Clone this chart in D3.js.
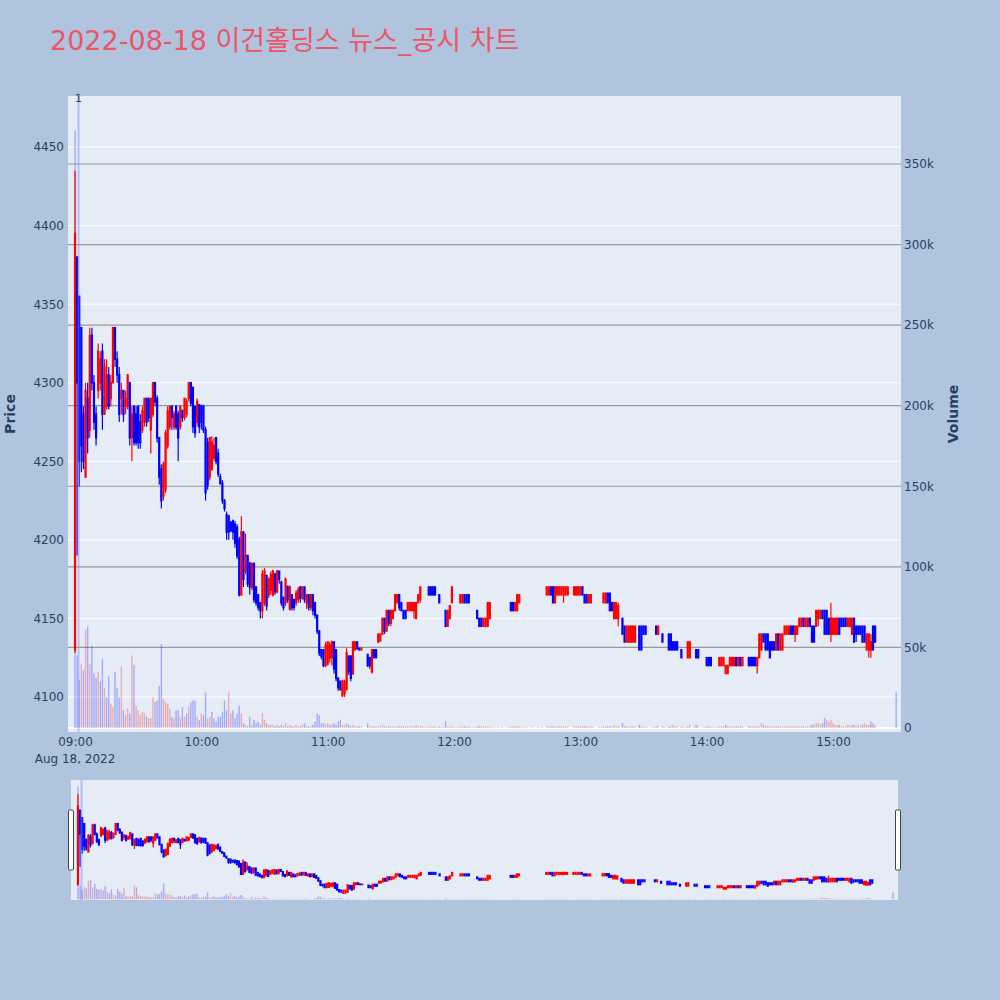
<!DOCTYPE html>
<html>
<head>
<meta charset="utf-8">
<title>2022-08-18 이건홀딩스 뉴스_공시 차트</title>
<script src="https://d3js.org/d3.v7.min.js"></script>
<style>
    body { margin: 0; background: #B0C4DE; }
    text { font-family: "DejaVu Sans", "Noto Sans CJK KR", sans-serif; }
</style>
</head>
<body>
<div id="chart"></div>
<script>

// one row per minute: [minute, open, high, low, close, volume (thousand shares)]
const hour09 = [
    [0,4130,4435,4128,4395,371],[1,4380,4380,4190,4300,45],[2,4355,4355,4234,4250,30],
    [3,4335,4335,4243,4260,40],[4,4280,4285,4245,4250,36],[5,4240,4300,4240,4295,61],
    [6,4290,4300,4255,4265,63],[7,4270,4335,4265,4330,40],[8,4330,4335,4295,4300,51],
    [9,4300,4305,4270,4275,34],[10,4280,4285,4260,4265,31],[11,4295,4325,4290,4320,35],
    [12,4300,4320,4295,4315,29],[13,4320,4325,4270,4280,43],[14,4280,4315,4280,4310,25],
    [15,4285,4315,4283,4305,19],[16,4305,4310,4283,4285,32],[17,4290,4305,4285,4300,15],
    [18,4300,4335,4300,4335,13],[19,4335,4335,4310,4315,35],[20,4315,4320,4300,4305,25],
    [21,4305,4310,4275,4280,19],[22,4290,4300,4280,4295,38],[23,4295,4295,4275,4280,11],
    [24,4285,4295,4280,4290,8],[25,4285,4305,4283,4305,12],[26,4300,4300,4260,4265,9],
    [27,4265,4285,4250,4280,45],[28,4285,4285,4260,4262,39],[29,4280,4285,4260,4262,14],
    [30,4285,4285,4258,4262,11],[31,4275,4280,4258,4262,8],[32,4270,4285,4268,4282,10],
    [33,4275,4290,4272,4290,9],[34,4290,4290,4272,4275,7],[35,4290,4290,4275,4278,6],
    [36,4270,4290,4255,4290,6],[37,4280,4300,4278,4300,19],[38,4300,4300,4285,4288,16],
    [39,4290,4292,4262,4265,17],[40,4265,4265,4235,4240,26],[41,4245,4248,4220,4225,52],
    [42,4228,4250,4225,4248,18],[43,4232,4270,4230,4268,16],[44,4260,4285,4258,4282,15],
    [45,4272,4285,4270,4285,12],[46,4285,4285,4270,4278,7],[47,4272,4282,4270,4280,6],
    [48,4285,4285,4270,4272,11],[49,4280,4282,4250,4265,11],[50,4272,4285,4270,4285,7],
    [51,4282,4283,4275,4278,13],[52,4278,4290,4276,4290,7],[53,4280,4290,4278,4288,9],
    [54,4290,4300,4288,4300,13],[55,4300,4300,4285,4287,16],[56,4297,4297,4268,4272,17],
    [57,4285,4285,4265,4268,17],[58,4275,4290,4272,4288,7],[59,4286,4286,4268,4272,5]
];
const hour10 = [
    [0,4285,4286,4270,4275,9],[1,4285,4286,4268,4270,8],[2,4270,4272,4225,4230,22],
    [3,4262,4265,4232,4235,6],[4,4240,4265,4238,4265,7],[5,4245,4266,4244,4262,10],
    [6,4252,4265,4250,4260,6],[7,4265,4265,4248,4250,4],[8,4255,4258,4240,4242,7],
    [9,4240,4242,4235,4236,7],[10,4236,4238,4223,4225,10],[11,4225,4226,4218,4220,17],
    [12,4216,4218,4200,4205,11],[13,4215,4216,4200,4205,22],[14,4211,4212,4205,4206,9],
    [15,4212,4213,4200,4205,11],[16,4210,4212,4195,4198,6],[17,4208,4210,4188,4190,9],
    [18,4200,4202,4164,4165,14],[19,4165,4215,4165,4205,9],[20,4205,4205,4170,4175,3],
    [21,4180,4204,4178,4190,2],[22,4190,4190,4170,4172,1],[23,4185,4186,4165,4170,7],
    [24,4170,4185,4168,4185,2],[25,4185,4185,4160,4162,5],[26,4170,4170,4158,4160,3],
    [27,4165,4165,4155,4157,4],[28,4160,4160,4150,4155,2],[29,4155,4181,4150,4178,9],
    [30,4160,4182,4158,4180,5],[31,4177,4178,4155,4158,3],[32,4165,4176,4163,4175,2],
    [33,4168,4180,4165,4178,2],[34,4165,4181,4164,4180,2],[35,4178,4179,4165,4167,1],
    [36,4167,4181,4166,4180,2],[37,4180,4180,4172,4175,1],[38,4173,4174,4158,4160,2],
    [39,4163,4164,4155,4157,1],[40,4160,4176,4158,4175,3],[41,4170,4171,4160,4162,1],
    [42,4156,4171,4155,4170,2],[43,4165,4165,4155,4157,1],[44,4162,4162,4155,4157,1],
    [45,4160,4168,4158,4166,2],[46,4162,4170,4160,4168,1],[47,4170,4170,4160,4163,1],
    [48,4163,4170,4162,4170,2],[49,4170,4170,4160,4162,3],[50,4160,4165,4156,4165,1],
    [51,4165,4165,4155,4157,1],[52,4157,4165,4155,4165,1],[53,4165,4165,4152,4155,2],
    [54,4160,4160,4150,4152,4],[55,4152,4152,4140,4142,9],[56,4142,4142,4126,4128,8],
    [57,4130,4130,4124,4126,3],[58,4130,4130,4119,4120,3],[59,4120,4135,4119,4133,2]
];
const hour11 = [
    [0,4121,4135,4120,4135,3],[1,4125,4135,4122,4133,2],[2,4125,4136,4120,4135,2],
    [3,4135,4135,4115,4118,3],[4,4130,4130,4110,4112,2],[5,4112,4112,4104,4106,4],
    [6,4110,4110,4104,4105,5],[7,4101,4111,4100,4110,2],[8,4102,4111,4100,4110,2],
    [9,4105,4131,4104,4128,3],[10,4126,4126,4114,4116,2],[11,4126,4126,4110,4112,1],
    [12,4115,4135,4114,4135,2],[13,4130,4135,4130,4135,1],[14,4135,4135,4130,4131,1],
    [15,4131,4131,4130,4130,1],[16,4130,4131,4130,4131,1],[19,4127,4127,4119,4120,3],
    [20,4125,4125,4118,4120,1],[21,4116,4130,4115,4130,1],[22,4130,4130,4125,4125,1],
    [23,4130,4130,4125,4125,1],[24,4135,4140,4135,4140,1],[25,4136,4140,4135,4140,1],
    [26,4140,4150,4140,4150,2],[27,4150,4150,4140,4142,1],[28,4142,4155,4142,4155,1],
    [29,4155,4155,4145,4147,1],[30,4147,4155,4145,4155,1],[31,4150,4155,4150,4155,1],
    [32,4155,4165,4155,4165,1],[33,4160,4165,4160,4165,1],[34,4165,4165,4155,4157,1],
    [35,4160,4160,4155,4155,1],[36,4155,4155,4150,4150,1],[37,4155,4155,4150,4150,1],
    [38,4155,4160,4155,4160,1],[39,4155,4160,4155,4160,1],[40,4155,4160,4155,4160,1],
    [41,4155,4160,4150,4160,1],[42,4150,4160,4150,4160,2],[43,4160,4165,4160,4165,1],
    [44,4162,4170,4160,4170,1],[45,4165,4165,4165,4165,1],[46,4165,4165,4165,4165,0.5],
    [47,4165,4165,4165,4165,0.5],[48,4170,4170,4165,4165,1],[49,4170,4170,4165,4165,1],
    [50,4170,4170,4165,4165,1],[51,4170,4170,4165,4165,1],[52,4165,4165,4165,4165,0.5],
    [53,4165,4165,4160,4160,1],[54,4155,4155,4155,4155,0.5],[55,4155,4155,4155,4155,0.5],
    [56,4155,4155,4145,4145,4],[57,4145,4155,4145,4155,1],[58,4150,4158,4150,4158,1],
    [59,4160,4170,4160,4170,1]
];
const hour12 = [
    [0,4165,4165,4165,4165,0.5],[1,4165,4165,4165,4165,0.5],[2,4165,4165,4165,4165,0.5],
    [3,4160,4165,4160,4165,1],[4,4160,4165,4160,4165,1],[5,4165,4165,4160,4160,1],
    [6,4165,4165,4160,4160,1],[7,4165,4165,4160,4160,1],[8,4160,4160,4160,4160,0.5],
    [9,4155,4155,4155,4155,0.5],[10,4155,4155,4155,4155,0.5],[11,4155,4155,4150,4150,1],
    [12,4150,4150,4145,4145,1],[13,4150,4150,4145,4145,1],[14,4145,4150,4145,4150,1],
    [15,4145,4150,4145,4150,1],[16,4145,4160,4145,4160,1],[17,4150,4160,4150,4160,1],
    [18,4160,4160,4160,4160,0.5],[19,4160,4160,4160,4160,0.5],[21,4150,4150,4150,4150,0.5],
    [23,4150,4150,4150,4150,0.5],[25,4155,4155,4155,4155,0.5],[26,4155,4155,4155,4155,0.5],
    [27,4160,4160,4155,4155,1],[28,4160,4160,4155,4155,1],[29,4155,4160,4155,4160,1],
    [30,4155,4165,4155,4165,1],[31,4160,4165,4160,4165,1],[32,4165,4165,4165,4165,0.5],
    [33,4165,4165,4165,4165,0.5],[34,4165,4165,4165,4165,0.5],[35,4165,4165,4165,4165,0.5],
    [37,4165,4165,4165,4165,0.5],[40,4160,4160,4160,4160,0.5],[42,4160,4160,4160,4160,0.5],
    [44,4165,4170,4165,4170,1],[45,4165,4170,4165,4170,1],[46,4170,4170,4165,4165,1],
    [47,4170,4170,4160,4160,1],[48,4160,4170,4160,4170,1],[49,4165,4170,4165,4170,1],
    [50,4165,4170,4165,4170,1],[51,4165,4170,4165,4170,1],[52,4165,4170,4160,4170,1],
    [53,4165,4170,4165,4170,1],[54,4165,4170,4165,4170,1],[57,4165,4170,4165,4170,1],
    [58,4165,4170,4165,4170,1],[59,4165,4170,4165,4170,1]
];
const hour13 = [
    [0,4165,4170,4165,4170,1],[1,4170,4170,4165,4165,1],[2,4165,4165,4160,4160,1],
    [3,4165,4165,4160,4160,1],[4,4160,4165,4160,4165,1],[5,4160,4165,4160,4165,1],
    [6,4165,4165,4165,4165,0.5],[9,4160,4160,4160,4160,0.5],[10,4160,4160,4160,4160,0.5],
    [11,4160,4166,4160,4166,1],[12,4160,4166,4160,4166,1],[13,4166,4166,4160,4160,1],
    [14,4166,4166,4155,4155,1],[15,4160,4160,4155,4155,1],[16,4150,4160,4150,4160,2],
    [17,4150,4160,4150,4160,1],[18,4150,4160,4145,4158,1],[20,4150,4150,4140,4140,3],
    [21,4145,4145,4135,4135,1],[22,4135,4145,4135,4145,1],[23,4135,4145,4135,4145,1],
    [24,4135,4145,4135,4145,1],[25,4135,4145,4135,4145,1],[26,4135,4145,4135,4145,1],
    [28,4145,4145,4130,4130,2],[29,4145,4145,4130,4130,1],[30,4145,4145,4140,4140,1],
    [31,4145,4145,4140,4140,0.5],[32,4140,4140,4140,4140,0.5],[34,4145,4145,4145,4145,0.5],
    [35,4145,4145,4145,4145,0.5],[36,4145,4145,4140,4140,1],[37,4140,4145,4140,4145,1],
    [39,4140,4140,4135,4135,1],[40,4140,4140,4140,4140,0.5],[42,4140,4140,4130,4130,1],
    [43,4140,4140,4130,4130,1],[44,4135,4135,4130,4130,2],[45,4135,4135,4130,4130,1],
    [46,4135,4135,4130,4130,1],[48,4130,4130,4125,4125,1],[49,4125,4125,4125,4125,0.5],
    [50,4125,4125,4125,4125,0.5],[51,4125,4135,4125,4135,1],[52,4125,4135,4125,4135,2],
    [54,4130,4130,4130,4130,0.5],[55,4130,4130,4125,4125,2],[56,4130,4130,4125,4125,1],
    [58,4125,4125,4125,4125,0.5],[59,4125,4125,4125,4125,0.5]
];
const hour14 = [
    [0,4125,4125,4120,4120,1],[1,4125,4125,4120,4120,1],[2,4125,4125,4120,4120,1],
    [3,4125,4125,4125,4125,0.5],[4,4125,4125,4125,4125,0.5],[5,4125,4125,4125,4125,0.5],
    [6,4120,4125,4120,4125,1],[7,4120,4125,4120,4125,1],[8,4120,4125,4120,4125,1],
    [9,4115,4120,4115,4120,2],[10,4115,4120,4115,4120,1],[11,4120,4125,4120,4125,1],
    [12,4120,4125,4120,4125,1],[13,4120,4125,4120,4125,1],[14,4125,4125,4120,4120,1],
    [15,4120,4125,4120,4125,1],[16,4125,4125,4120,4120,1],[17,4120,4125,4120,4125,1],
    [20,4125,4125,4120,4120,1],[21,4125,4125,4120,4120,1],[22,4125,4125,4120,4120,1],
    [23,4125,4125,4120,4120,1],[24,4120,4125,4115,4125,1],[25,4125,4140,4125,4140,1],
    [26,4130,4140,4130,4140,3],[27,4140,4140,4135,4135,2],[28,4140,4140,4130,4130,1],
    [29,4140,4140,4130,4130,1],[30,4135,4135,4125,4125,1],[31,4135,4135,4130,4130,1],
    [32,4135,4135,4130,4130,1],[33,4130,4140,4130,4140,1],[34,4140,4140,4130,4130,1],
    [35,4130,4140,4130,4140,1],[36,4130,4140,4130,4140,1],[37,4140,4145,4140,4145,1],
    [38,4140,4145,4140,4145,1],[39,4140,4145,4140,4145,1],[40,4145,4145,4140,4140,1],
    [41,4145,4145,4140,4140,1],[42,4140,4145,4135,4145,1],[43,4140,4145,4140,4145,1],
    [44,4145,4150,4145,4150,1],[45,4145,4150,4145,4150,1],[46,4150,4150,4145,4145,1],
    [47,4145,4150,4145,4150,1],[48,4145,4150,4145,4150,1],[49,4150,4150,4145,4145,1],
    [50,4145,4145,4135,4135,2],[51,4145,4145,4135,4135,2],[52,4145,4155,4145,4155,3],
    [53,4150,4155,4145,4155,3],[54,4150,4155,4150,4155,2],[55,4155,4155,4150,4150,3],
    [56,4155,4155,4140,4140,6],[57,4155,4155,4140,4140,5],[58,4150,4150,4140,4140,4],
    [59,4140,4160,4135,4150,5]
];
const hour15 = [
    [0,4140,4150,4140,4150,3],[1,4140,4150,4140,4150,2],[2,4140,4150,4140,4150,2],
    [3,4150,4150,4140,4140,2],[4,4150,4150,4145,4145,1],[5,4150,4150,4145,4145,1],
    [6,4150,4150,4145,4145,1],[7,4145,4150,4145,4150,2],[8,4145,4150,4145,4150,1],
    [9,4140,4150,4140,4150,2],[10,4150,4150,4135,4135,2],[11,4145,4145,4135,4140,1],
    [12,4145,4145,4140,4140,2],[13,4145,4145,4140,4140,1],[14,4145,4145,4135,4135,2],
    [15,4145,4145,4135,4135,3],[16,4130,4140,4130,4140,2],[17,4130,4140,4125,4140,2],
    [18,4130,4140,4125,4135,4],[19,4145,4145,4130,4130,3],[20,4145,4145,4135,4135,2],
    [30,4120,4120,4120,4120,22]
];

// axis ticks and news markers
const priceTicks = [4100, 4150, 4200, 4250, 4300, 4350, 4400, 4450];
const volumeTicks = [0, 50000, 100000, 150000, 200000, 250000, 300000, 350000];
const timeTicks = [9, 10, 11, 12, 13, 14, 15];
const newsTimes = ["09:01:40"];
const newsLabels = ["1"];

const width = 1000;
const height = 1000;
const plot = { left: 68, right: 901, top: 96, bottom: 732 };
const slider = { left: 71, right: 898, top: 780, bottom: 900 };
const up = "#ff0000", down = "#0000ff";
const tickColor = "#2a3f5f";

// build candle table from the hour arrays
const hourRows = [[9, hour09], [10, hour10], [11, hour11], [12, hour12], [13, hour13], [14, hour14], [15, hour15]];
const candles = hourRows.flatMap(([h, rows]) => rows.map(r => ({
    date: new Date(2022, 7, 18, h, r[0]),
    open: r[1], high: r[2], low: r[3], close: r[4],
    volume: r[5] * 1000
})));
candles.forEach((d, i) => {
    d.volUp = i > 0 && d.close >= candles[i - 1].close;
});

const parseTime = d3.timeParse("%Y-%m-%d %H:%M:%S");
const xDomain = [parseTime("2022-08-18 08:56:40"), parseTime("2022-08-18 15:32:18")];

const svg = d3.select("#chart")
    .append("svg")
    .attr("width", width)
    .attr("height", height);

svg.append("rect").attr("width", width).attr("height", height).attr("fill", "#B0C4DE");

// title
svg.append("text")
    .attr("x", 50)
    .attr("y", 50)
    .attr("fill", "rgb(236,84,104)")
    .style("font-size", "27px")
    .text("2022-08-18 이건홀딩스 뉴스_공시 차트");

// scales for main plot
const xScale = d3.scaleTime().domain(xDomain).range([plot.left, plot.right]);
const yPrice = d3.scaleLinear().domain([4077.7, 4482.5]).range([plot.bottom, plot.top]);
const yVolume = d3.scaleLinear().domain([-2500, 392200]).range([plot.bottom, plot.top]);

const defs = svg.append("defs");
defs.append("clipPath").attr("id", "clipMain")
    .append("rect")
    .attr("x", plot.left).attr("y", plot.top)
    .attr("width", plot.right - plot.left).attr("height", plot.bottom - plot.top);
defs.append("clipPath").attr("id", "clipSlider")
    .append("rect")
    .attr("x", slider.left).attr("y", slider.top)
    .attr("width", slider.right - slider.left).attr("height", slider.bottom - slider.top);

svg.append("rect")
    .attr("x", plot.left).attr("y", plot.top)
    .attr("width", plot.right - plot.left).attr("height", plot.bottom - plot.top)
    .attr("fill", "#E5ECF6");

// gridlines: white for price, gray for volume
svg.append("g").selectAll("line")
    .data(priceTicks)
    .join("line")
    .attr("x1", plot.left).attr("x2", plot.right)
    .attr("y1", d => yPrice(d)).attr("y2", d => yPrice(d))
    .attr("stroke", "#fff").attr("stroke-width", 1);

svg.append("g").selectAll("line")
    .data(volumeTicks)
    .join("line")
    .attr("x1", plot.left).attr("x2", plot.right)
    .attr("y1", d => yVolume(d)).attr("y2", d => yVolume(d))
    .attr("stroke", d => d === 0 ? "#fff" : "#999")
    .attr("stroke-width", d => d === 0 ? 2 : 1.2);

// draws volume bars and candles for a given set of scales
function drawSeries(g, xs, yp, yv, bodyWidth) {
    g.append("g").selectAll("rect")
        .data(candles)
        .join("rect")
        .attr("x", d => xs(d.date) - 0.7)
        .attr("width", 1.4)
        .attr("y", d => yv(d.volume))
        .attr("height", d => yv(0) - yv(d.volume))
        .attr("fill", d => d.volUp ? up : down)
        .attr("fill-opacity", 0.28);

    const c = g.append("g").selectAll("g")
        .data(candles)
        .join("g")
        .attr("stroke", d => d.close >= d.open ? up : down)
        .attr("fill", d => d.close >= d.open ? up : down);

    c.append("line")
        .attr("x1", d => xs(d.date)).attr("x2", d => xs(d.date))
        .attr("y1", d => yp(d.high)).attr("y2", d => yp(d.low))
        .attr("stroke-width", 1.2);

    c.append("rect")
        .attr("x", d => xs(d.date) - bodyWidth / 2)
        .attr("width", bodyWidth)
        .attr("y", d => yp(Math.max(d.open, d.close)))
        .attr("height", d => Math.abs(yp(d.open) - yp(d.close)))
        .attr("stroke-width", 1.6);
}

const mainG = svg.append("g").attr("clip-path", "url(#clipMain)");
drawSeries(mainG, xScale, yPrice, yVolume, 0.6);

// news marker line
const newsDates = newsTimes.map(t => parseTime("2022-08-18 " + t));
mainG.append("g").selectAll("line")
    .data(newsDates)
    .join("line")
    .attr("x1", d => xScale(d)).attr("x2", d => xScale(d))
    .attr("y1", plot.top).attr("y2", plot.bottom)
    .attr("stroke", "rgba(110,140,255,0.45)")
    .attr("stroke-width", 2);

svg.append("g").selectAll("text")
    .data(newsDates)
    .join("text")
    .attr("x", d => xScale(d))
    .attr("y", plot.top + 6)
    .attr("text-anchor", "middle")
    .attr("fill", tickColor)
    .style("font-size", "11px")
    .text((d, i) => newsLabels[i]);

// axes
const xAxis = svg.append("g")
    .attr("transform", `translate(0, ${plot.bottom})`)
    .call(d3.axisBottom(xScale)
        .tickValues(timeTicks.map(h => new Date(2022, 7, 18, h, 0)))
        .tickFormat(d3.timeFormat("%H:%M"))
        .tickSize(0)
        .tickPadding(5));

const yAxisLeft = svg.append("g")
    .attr("transform", `translate(${plot.left}, 0)`)
    .call(d3.axisLeft(yPrice).tickValues(priceTicks).tickFormat(d3.format("d")).tickSize(0).tickPadding(4));

const yAxisRight = svg.append("g")
    .attr("transform", `translate(${plot.right}, 0)`)
    .call(d3.axisRight(yVolume).tickValues(volumeTicks).tickFormat(d3.format("~s")).tickSize(0).tickPadding(3));

[xAxis, yAxisLeft, yAxisRight].forEach(a => {
    a.select(".domain").remove();
    a.selectAll("text")
        .attr("fill", tickColor)
        .style("font-size", "12px")
        .style("font-family", "\"DejaVu Sans\", sans-serif");
});

svg.append("text")
    .attr("x", xScale(new Date(2022, 7, 18, 9, 0)))
    .attr("y", 763)
    .attr("text-anchor", "middle")
    .attr("fill", tickColor)
    .style("font-size", "12px")
    .text("Aug 18, 2022");

// axis titles
svg.append("text")
    .attr("transform", "translate(15, 414) rotate(-90)")
    .attr("text-anchor", "middle")
    .attr("fill", tickColor)
    .style("font-size", "14px")
    .style("font-weight", "bold")
    .text("Price");

svg.append("text")
    .attr("transform", "translate(958, 414) rotate(-90)")
    .attr("text-anchor", "middle")
    .attr("fill", tickColor)
    .style("font-size", "14px")
    .style("font-weight", "bold")
    .text("Volume");

// range slider below the chart
const xSlider = d3.scaleTime().domain(xDomain).range([slider.left, slider.right]);
const ySliderPrice = d3.scaleLinear().domain(yPrice.domain()).range([slider.bottom, slider.top]);
const ySliderVolume = d3.scaleLinear().domain(yVolume.domain()).range([slider.bottom, slider.top]);

svg.append("rect")
    .attr("x", slider.left).attr("y", slider.top)
    .attr("width", slider.right - slider.left).attr("height", slider.bottom - slider.top)
    .attr("fill", "#E5ECF6");

const sliderG = svg.append("g").attr("clip-path", "url(#clipSlider)");
drawSeries(sliderG, xSlider, ySliderPrice, ySliderVolume, 0.6);
sliderG.append("g").selectAll("line")
    .data(newsDates)
    .join("line")
    .attr("x1", d => xSlider(d)).attr("x2", d => xSlider(d))
    .attr("y1", slider.top).attr("y2", slider.bottom)
    .attr("stroke", "rgba(110,140,255,0.45)")
    .attr("stroke-width", 2);

// slider grab handles
svg.append("g").selectAll("rect")
    .data([slider.left, slider.right])
    .join("rect")
    .attr("x", d => d - 2.5)
    .attr("y", 810)
    .attr("width", 5)
    .attr("height", 60)
    .attr("rx", 1)
    .attr("fill", "#fff")
    .attr("stroke", "#444")
    .attr("stroke-width", 1);

</script>
</body>
</html>
